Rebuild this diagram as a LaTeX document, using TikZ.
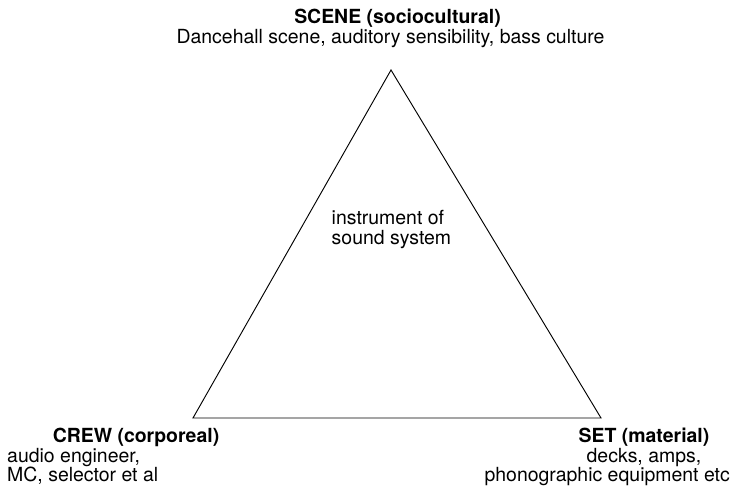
\documentclass[tikz,border=0pt]{standalone}
\usepackage{fontspec}
\setmainfont{TeX Gyre Heros}

\begin{document}
\begin{tikzpicture}[
    x=0.03cm, y=-0.03cm,
    lbl/.style={inner sep=0pt, font=\fontsize{16.6}{17}\selectfont},
    head/.style={inner sep=0pt, font=\fontsize{16.6}{17}\selectfont\bfseries},
    edge/.style={line width=0.8pt, line join=miter}
]
\useasboundingbox (0,0) rectangle (732,487);

% corners of the triangle
\coordinate (scene) at (391,70);
\coordinate (crew)  at (193,418);
\coordinate (set)   at (601,418);

\draw[edge] (scene) -- (crew) -- (set) -- cycle;

% top
\node[head, anchor=base] (scenehd) at (397.5,24) {SCENE (sociocultural)};
\node[lbl,  anchor=base] (scenetx) at (390.5,44) {Dancehall scene, auditory sensibility, bass culture};

% middle
\node[lbl, anchor=base west] (inst1) at (331.5,225) {instrument of};
\node[lbl, anchor=base west] (inst2) at (331.5,245) {sound system};

% bottom left
\node[head, anchor=base]      (crewhd) at (136,442) {CREW (corporeal)};
\node[lbl,  anchor=base west] (crew1)  at (7,462)   {audio engineer,};
\node[lbl,  anchor=base west] (crew2)  at (7,481)   {MC, selector et al};

% bottom right
\node[head, anchor=base]      (sethd) at (644,442) {SET (material)};
\node[lbl,  anchor=base]      (set1)  at (644,462) {decks, amps,};
\node[lbl,  anchor=base east] (set2)  at (730,481) {phonographic equipment etc};

\end{tikzpicture}
\end{document}
